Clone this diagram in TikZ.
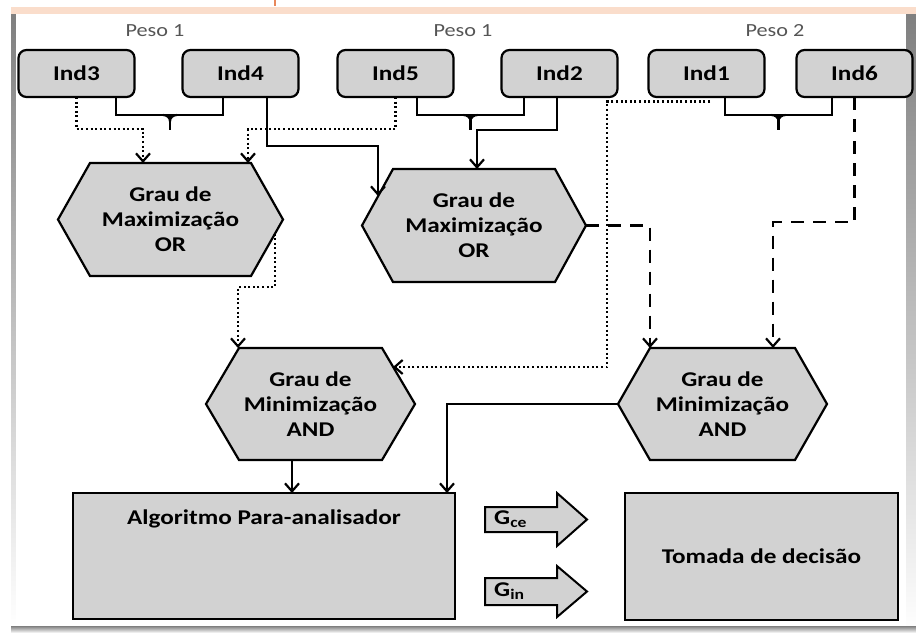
\documentclass[tikz,border=0pt]{standalone}
\usepackage{fontspec}
\setmainfont{Carlito}[FakeStretch=1.2]
\usetikzlibrary{arrows.meta,backgrounds,calc}
\definecolor{boxfill}{HTML}{D2D2D2}
\definecolor{pesogray}{HTML}{555555}
\definecolor{peach}{HTML}{FADDCB}
\definecolor{orangeline}{HTML}{E8875A}
\definecolor{shade}{HTML}{EDEDED}
\newcommand{\hexout}[2]{\draw[hexline] (#1.west) -- ([xshift=#2pt]#1.north west) -- ([xshift=-#2pt]#1.north east) -- (#1.east) -- ([xshift=-#2pt]#1.south east) -- ([xshift=#2pt]#1.south west) -- cycle;}
\begin{document}
\begin{tikzpicture}[x=1pt,y=-1pt,
  bold/.style={font=\bfseries\fontsize{21}{25}\selectfont},
  indbox/.style={bold,draw=black,line width=2.2pt,fill=boxfill,rounded corners=8pt,
    minimum width=116pt,minimum height=47pt,inner sep=0pt,outer sep=0pt},
  hexnode/.style={bold,align=center,inner sep=0pt,outer sep=0pt},
  hexline/.style={draw=black,line width=2.2pt,fill=boxfill,line join=miter},
  bigbox/.style={draw=black,line width=2.2pt,fill=boxfill,inner sep=0pt,outer sep=0pt},
  peso/.style={font=\fontsize{18.5}{22}\selectfont,text=pesogray,inner sep=0pt},
  solidline/.style={draw=black,line width=2.2pt},
  dotline/.style={draw=black,line width=2.2pt,dash pattern=on 2pt off 2.6pt},
  dashline/.style={draw=black,line width=2.2pt,dash pattern=on 13pt off 9pt},
  tip/.style={-{Straight Barb[length=8pt,width=14pt]}},
  gtext/.style={font=\bfseries\fontsize{21}{22}\selectfont,inner sep=0pt,anchor=west}
]
\useasboundingbox (0,0) rectangle (916,633);

% weight labels
\node[peso] (p1) at (155,31) {Peso 1};
\node[peso] (p2) at (463,31) {Peso 1};
\node[peso] (p3) at (775,31) {Peso 2};

% indicator boxes
\node[indbox] (Ind3) at (76.5,73.5) {Ind3};
\node[indbox] (Ind4) at (240.5,73.5) {Ind4};
\node[indbox] (Ind5) at (395.5,73.5) {Ind5};
\node[indbox] (Ind2) at (559.5,73.5) {Ind2};
\node[indbox] (Ind1) at (706.5,73.5) {Ind1};
\node[indbox] (Ind6) at (854.5,73.5) {Ind6};

% hexagon nodes
\node[hexnode,minimum width=225pt,minimum height=113pt] (h1) at (170.5,219.5) {Grau de\\Maximização\\OR};
\node[hexnode,minimum width=224pt,minimum height=113pt] (h2) at (474,225.5) {Grau de\\Maximização\\OR};
\node[hexnode,minimum width=209pt,minimum height=112pt] (h3) at (310.5,404) {Grau de\\Minimização\\AND};
\node[hexnode,minimum width=209pt,minimum height=112pt] (h4) at (722.5,404) {Grau de\\Minimização\\AND};

\begin{scope}[on background layer]
  % page background
  \fill[white] (0,0) rectangle (916,633);
  \fill[shade] (11,14) rectangle (16,626);
  \fill[shade] (906,14) rectangle (916,633);
  \fill[shade] (11,626) rectangle (916,633);
  \fill[white] (16,14) rectangle (906,626);
  \fill[peach] (11,7) rectangle (916,14);
  \draw[orangeline,line width=2pt] (275,0) -- (275,6);
  % hexagon outlines
  \hexout{h1}{32}
  \hexout{h2}{31}
  \hexout{h3}{33}
  \hexout{h4}{32}
\end{scope}

% big boxes
\node[bigbox,minimum width=382pt,minimum height=126pt] (algo) at (264,556) {};
\node[bold,inner sep=0pt] (algot) at (264,519) {Algoritmo Para-analisador};
\node[bigbox,bold,minimum width=273pt,minimum height=127pt] (toma) at (761.5,556.5) {Tomada de decisão};

% braces
\coordinate (brA) at (170,115);
\coordinate (brB) at (470.5,115);
\coordinate (brC) at (778.5,115);
\draw[solidline] ([xshift=39.5pt]Ind3.south) |- (brA) -| ([xshift=-17.5pt]Ind4.south);
\draw[solidline] ([xshift=21.5pt]Ind5.south) |- (brB) -| ([xshift=-35.5pt]Ind2.south);
\draw[solidline] ([xshift=18.5pt]Ind1.south) |- (brC) -| ([xshift=-22.5pt]Ind6.south);
\coordinate (brAt) at (170,130);
\coordinate (brBt) at (470.5,130);
\coordinate (brCt) at (778.5,130);
\foreach \b in {brA,brB,brC}{
  \draw[solidline] ([xshift=-7pt]\b) to[out=0,in=90] ([yshift=-6pt]\b) to[out=90,in=180] ([xshift=7pt]\b);
  \draw[solidline] (\b) -- (\b t);
}

% connectors
\coordinate (k1) at (143,129);
\draw[dotline,tip] (Ind3.south) |- (k1) -- (k1 |- h1.north);
\coordinate (k2) at (248,129);
\draw[dotline,tip] (Ind5.south) |- (k2) -- (k2 |- h1.north);
\coordinate (k3) at (378,146);
\coordinate (e3) at (378,196);
\draw[solidline,tip] ([xshift=26.5pt]Ind4.south) |- (k3) -- (e3);
\coordinate (k4) at (477,130);
\draw[solidline,tip] ([xshift=-2.5pt]Ind2.south) |- (k4) -- (k4 |- h2.north);
\coordinate (s5) at (275,233.6);
\coordinate (k5) at (238,287);
\draw[dotline,tip] (s5) |- (k5) -- (k5 |- h3.north);
\coordinate (s6) at (710,101.5);
\coordinate (k6) at (607,367);
\coordinate (e6) at (393,367);
\draw[dotline,tip] (s6) -| (k6) -- (e6);
\draw[dashline,tip] (h2.east) -| ([xshift=-72.5pt]h4.north);
\coordinate (k8) at (773,222);
\draw[dashline,tip] (Ind6.south) |- (k8) -- (k8 |- h4.north);
\draw[solidline,tip] (h4.west) -| ([xshift=183pt]algo.north);
\coordinate (s10) at (292,460);
\draw[solidline,tip] (s10) -- (s10 |- algo.north);

% block arrows
\draw[solidline,line width=2pt,fill=boxfill,line join=miter]
  (485,507) -- (557,507) -- (557,493) -- (587,519.5) -- (557,546) -- (557,532) -- (485,532) -- cycle;
\draw[solidline,line width=2pt,fill=boxfill,line join=miter]
  (485,578) -- (557,578) -- (557,566) -- (587,591.5) -- (557,617) -- (557,605) -- (485,605) -- cycle;
\node[gtext] (gce) at (494,519.5) {G\textsubscript{ce}};
\node[gtext] (gin) at (494,591.5) {G\textsubscript{in}};
\end{tikzpicture}
\end{document}
